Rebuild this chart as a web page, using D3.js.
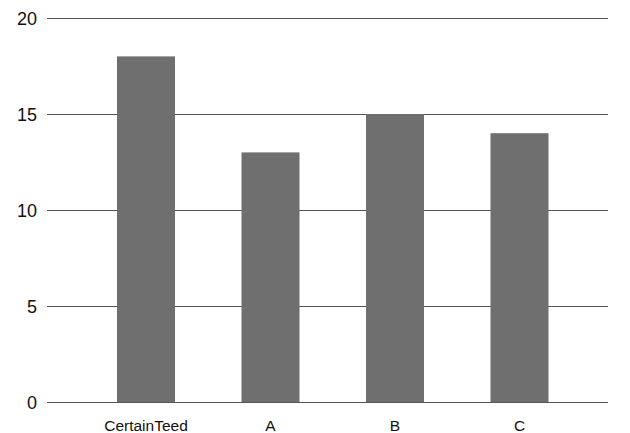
<!DOCTYPE html>
<html><head><meta charset="utf-8">
<script src="https://cdn.jsdelivr.net/npm/d3@7"></script>
<style>body{margin:0;background:#fff}svg{display:block}text{font-family:"Liberation Sans",Arial,sans-serif}</style>
</head><body>
<svg id="c" width="630" height="433"></svg>
<script>
const categories = ["CertainTeed", "A", "B", "C"];
const values = [18, 13, 15, 14];
const yTicks = [0, 5, 10, 15, 20];
const title = "Average Energy Savings by Company (percent by year)";

const svg = d3.select("#c");
const x = d3.scaleBand().domain(categories).range([83.75, 581.75]).paddingInner(0.534).paddingOuter(0.267);
const y = d3.scaleLinear().domain([0, 20]).range([402, 18]);

svg.append("text").attr("x", 400).attr("y", -3).attr("text-anchor", "middle")
  .attr("font-size", 15).attr("font-weight", "bold").attr("fill", "#888").text(title);

const ya = svg.append("g").attr("transform", "translate(47,0)")
  .call(d3.axisRight(y).tickValues(yTicks).tickSize(561).tickFormat(d3.format("d")));
ya.select(".domain").remove();
ya.selectAll(".tick line").attr("stroke", "#555").attr("stroke-width", 1);
ya.selectAll(".tick text").attr("x", -10).attr("text-anchor", "end").attr("font-size", 18).attr("fill", "#111").attr("dy", "0.35em");

svg.append("g").selectAll("rect").data(values).join("rect")
  .attr("x", (d, i) => x(categories[i])).attr("width", x.bandwidth())
  .attr("y", d => y(d)).attr("height", d => y(0) - y(d)).attr("fill", "#6f6f6f");

const xa = svg.append("g").attr("transform", "translate(0,402)")
  .call(d3.axisBottom(x).tickSize(0).tickPadding(0));
xa.select(".domain").remove();
xa.selectAll(".tick text").attr("font-size", 15.5).attr("fill", "#111").attr("dy", 0).attr("y", 29);
</script>
</body></html>
